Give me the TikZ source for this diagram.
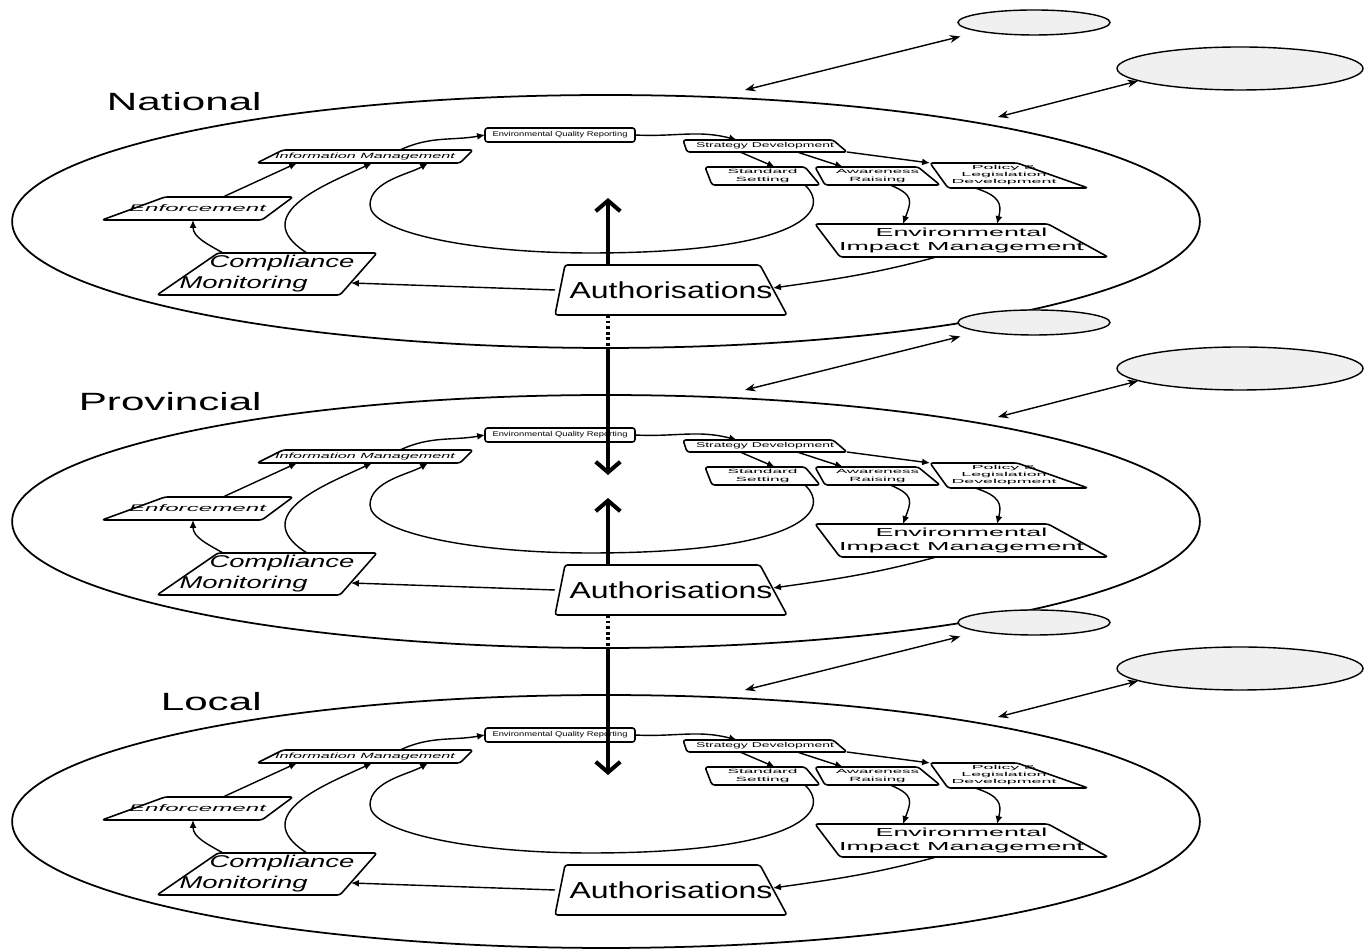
\documentclass[tikz,border=0pt]{standalone}
\usepackage{fontspec}
\setmainfont{Liberation Sans}
\usepackage{graphicx}
\usetikzlibrary{arrows.meta,calc,shapes.geometric}

% text squeezed into a given width and height, taking no room in the node
\newcommand\squashed[4][0pt]{\makebox[0pt]{\hspace*{#1}\smash{\raisebox{\dimexpr(\depth-\height)/2\relax}{\resizebox*{#2}{#3}{#4}}}}}
% slanted outline round a box node: offsets of the four corners (bl, tl, tr, br)
\newcommand\pgram[5]{\draw[boxline] ($(#1.south west)+(#2,0)$) -- ($(#1.north west)+(#3,0)$)
  -- ($(#1.north east)-(#4,0)$) -- ($(#1.south east)-(#5,0)$) -- cycle;}
\newcommand\textlines[1]{\begin{tabular}{@{}c@{}}#1\end{tabular}}

\begin{document}
\begin{tikzpicture}[x=0.02cm, y=0.02cm,
    box/.style={rectangle, inner sep=0pt, outer sep=0pt},
    sz/.style 2 args={minimum width=#1*0.02cm, minimum height=#2*0.02cm},
    boxline/.style={line width=0.9pt, rounded corners=1.5pt, line join=round},
    link/.style={line width=0.8pt, -{Latex[length=4.5pt,width=4pt]}},
    ringline/.style={line width=1pt},
    sideell/.style={ellipse, draw, fill=gray!12, line width=0.8pt, inner sep=0pt},
    twoway/.style={line width=0.8pt, {Stealth[length=6pt,width=4.5pt]}-{Stealth[length=6pt,width=4.5pt]}},
    bigarrow/.style={line width=2.3pt, -{Straight Barb[length=6pt,width=14pt]}},
    bigdash/.style={line width=2.3pt, dash pattern=on 1.6pt off 1.6pt},
    tiername/.style={anchor=east, inner sep=0pt}]
  \useasboundingbox (0,0) rectangle (1365,949);

  \foreach \lay/\dy/\tier in {nat/0/National, prov/300/Provincial, loc/600/Local}{
  \begin{scope}[shift={(0,-\dy)}]
    % outer ring and tier name
    \draw[ringline] (606,727.5) ellipse [x radius=11.88cm, y radius=2.53cm];
    \node[tiername] (\lay-name) at (262,847) {\scalebox{1.69}[1]{\fontsize{14.2}{17}\selectfont \tier}};

    % boxes
    \node[box, sz={216}{13}] (\lay-info) at (365,792.5) {\squashed{3.6cm}{0.14cm}{\itshape Information Management}};
    \node[box, sz={191}{23}] (\lay-enf) at (197.5,740.5) {\squashed{2.74cm}{0.14cm}{\itshape Enforcement}};
    \node[box, sz={220}{42}] (\lay-comp) at (267,675) {\squashed{3.5cm}{0.82cm}{\itshape\begin{tabular}{@{}l@{}}\hspace{1.1em}Compliance\\Monitoring\end{tabular}}};
    \node[box, sz={150}{14}] (\lay-rep) at (560,814) {\squashed{2.7cm}{0.13cm}{Environmental Quality Reporting}};
    \node[box, sz={164}{12}] (\lay-str) at (765,803) {\squashed{2.76cm}{0.13cm}{Strategy Development}};
    \node[box, sz={115}{18}] (\lay-std) at (762.5,773) {\squashed{1.4cm}{0.29cm}{\textlines{Standard\\Setting}}};
    \node[box, sz={125}{18}] (\lay-awa) at (877.5,773) {\squashed{1.66cm}{0.29cm}{\textlines{Awareness\\Raising}}};
    \node[box, sz={158}{25}] (\lay-pol) at (1009,773.5) {\squashed[-0.2cm]{2.1cm}{0.42cm}{\textlines{Policy \&\\Legislation\\Development}}};
    \node[box, sz={293}{33}] (\lay-eim) at (961.5,708.5) {\squashed{4.9cm}{0.56cm}{\textlines{Environmental\\Impact Management}}};
    \node[box, sz={232}{50}] (\lay-auth) at (671,659) {\squashed{4.06cm}{0.34cm}{Authorisations}};
    \pgram{\lay-info}{0}{26}{0}{13}
    \pgram{\lay-enf}{0}{63}{0}{31}
    \pgram{\lay-comp}{0}{61}{0}{37}
    \pgram{\lay-rep}{0}{0}{0}{0}
    \pgram{\lay-str}{4}{0}{14}{0}
    \pgram{\lay-std}{7}{0}{15}{0}
    \pgram{\lay-awa}{10}{0}{22}{0}
    \pgram{\lay-pol}{18}{0}{71}{0}
    \pgram{\lay-eim}{25}{0}{60}{0}
    \pgram{\lay-auth}{0}{10}{27}{0}

    % the cycle
    \draw[link] (\lay-auth.west) -- ($(\lay-comp.east)+(-26,-9)$);
    \draw[link] ($(\lay-eim.south)+(-25,0)$) to[out=-165,in=8] ($(\lay-auth.east)+(-14,2)$);
    \draw[link] ($(\lay-comp.north)+(-44,0)$) to[out=150,in=-90] ($(\lay-enf.south)+(-4.5,0)$);
    \draw[link] ($(\lay-comp.north)+(40,0)$) .. controls +(-62,39) and +(-42,-20) .. ($(\lay-info.south)+(7,0)$);
    \draw[link] ($(\lay-enf.north)+(25.5,0)$) -- ($(\lay-info.south)+(-68,0)$);
    \draw[link] ($(\lay-std.south)+(42.5,0)$) .. controls +(30,-29) and +(200,0) .. (590,696)
      .. controls +(-121,0) and +(0,-26.5) .. (370,744)
      .. controls +(0,24) and +(-18,-11) .. ($(\lay-info.south)+(63,0)$);
    \draw[link] ($(\lay-info.north)+(35,0)$) to[out=25,in=190] (\lay-rep.west);
    \draw[link] (\lay-rep.east) to[out=-3,in=165] ($(\lay-str.north)+(-28,0)$);
    \draw[link] ($(\lay-str.south)+(-25,0)$) -- ($(\lay-std.north)+(12.5,0)$);
    \draw[link] ($(\lay-str.south)+(32,0)$) -- ($(\lay-awa.north)+(-34.5,0)$);
    \draw[link] (\lay-str.south east) -- (\lay-pol.north west);
    \draw[link] ($(\lay-awa.south)+(12.5,0)$) .. controls +(25,-10) and +(8,22) .. ($(\lay-eim.north)+(-58.5,0)$);
    \draw[link] ($(\lay-pol.south)+(-34,0)$) .. controls +(25,-8) and +(5,20) .. ($(\lay-eim.north)+(35.5,0)$);

    % outside partners
    \node[sideell, sz={152}{25}] (\lay-small) at (1034,926.5) {};
    \node[sideell, sz={246}{43}] (\lay-large) at (1240,880.5) {};
    \coordinate (\lay-a1) at (745,859);
    \coordinate (\lay-a2) at (998,832);
    \draw[twoway] (\lay-a1) -- ($(\lay-small.west)+(3,-14)$);
    \draw[twoway] (\lay-a2) -- (\lay-large.187);

    % ends of the links between tiers
    \coordinate (\lay-top) at (608,751);
    \coordinate (\lay-gap) at (608,600);
    \coordinate (\lay-bot) at (608,774);
  \end{scope}
  }

  % links between the tiers
  \foreach \up/\dn in {nat/prov, prov/loc}{
    \draw[bigarrow] (\up-top |- \up-auth.north) -- (\up-top);
    \draw[bigdash] (\up-top |- \up-auth.south) -- (\up-gap);
    \draw[bigarrow] (\up-gap) -- (\dn-bot);
  }
\end{tikzpicture}
\end{document}
